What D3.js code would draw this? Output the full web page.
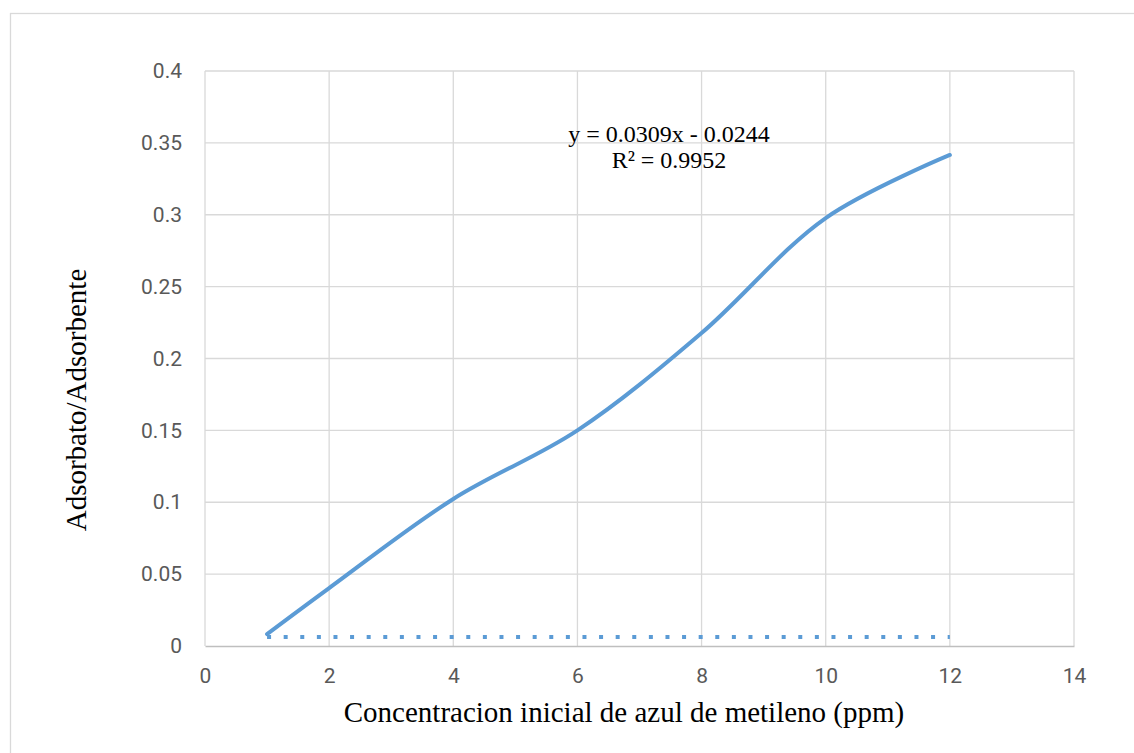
<!DOCTYPE html>
<html>
<head>
<meta charset="utf-8">
<script src="https://cdn.jsdelivr.net/npm/d3@7"></script>
<style>
  body { margin: 0; background: #fff; }
</style>
</head>
<body>
<div id="wrapper"></div>
<script>
// Data
const concentracion = [1, 2, 4, 6, 8, 10, 12];
const adsorbato = [0.0083, 0.0403, 0.1023, 0.150, 0.2177, 0.2977, 0.3416];
const trendX = [1, 12];
const trendY = [0.0063, 0.0063];
const xTicks = [0, 2, 4, 6, 8, 10, 12, 14];
const yTicks = [0, 0.05, 0.1, 0.15, 0.2, 0.25, 0.3, 0.35, 0.4];
const equation = ['y = 0.0309x - 0.0244', 'R² = 0.9952'];
const xTitle = 'Concentracion inicial de azul de metileno (ppm)';
const yTitle = 'Adsorbato/Adsorbente';

// Dimensions
const dimensions = {
  width: 1134, height: 753,
  margins: {top: 71, right: 60, bottom: 107, left: 205}
};
dimensions.boundedWidth = dimensions.width - dimensions.margins.left - dimensions.margins.right;
dimensions.boundedHeight = dimensions.height - dimensions.margins.top - dimensions.margins.bottom;

const svg = d3.select('#wrapper').append('svg')
  .attr('width', dimensions.width).attr('height', dimensions.height);

// outer chart border
svg.append('rect')
  .attr('x', 10.5).attr('y', 13.5)
  .attr('width', 1130).attr('height', 760)
  .attr('fill', 'none').attr('stroke', '#d9d9d9').attr('stroke-width', 1.3);

const bounds = svg.append('g')
  .attr('transform', `translate(${dimensions.margins.left},${dimensions.margins.top})`);

// Scales
const xScale = d3.scaleLinear().domain([0, 14]).range([0, dimensions.boundedWidth]);
const yScale = d3.scaleLinear().domain([0, 0.4]).range([dimensions.boundedHeight, 0]);

// Gridlines
bounds.append('g').selectAll('line')
  .data(yTicks.slice(1)).enter().append('line')
  .attr('x1', 0).attr('x2', dimensions.boundedWidth)
  .attr('y1', d => yScale(d)).attr('y2', d => yScale(d))
  .attr('stroke', '#d9d9d9').attr('stroke-width', 1.3);
bounds.append('g').selectAll('line')
  .data(xTicks).enter().append('line')
  .attr('x1', d => xScale(d)).attr('x2', d => xScale(d))
  .attr('y1', 0).attr('y2', dimensions.boundedHeight)
  .attr('stroke', '#d9d9d9').attr('stroke-width', 1.3);

// Axes
const xAxis = bounds.append('g')
  .attr('transform', `translate(0,${dimensions.boundedHeight})`)
  .call(d3.axisBottom(xScale).tickValues(xTicks).tickSize(0).tickPadding(22).tickFormat(d3.format('d')));
xAxis.select('.domain').attr('stroke', '#bfbfbf').attr('stroke-width', 1.5);
xAxis.selectAll('text')
  .attr('font-family', 'Roboto, sans-serif').attr('font-size', '21px').attr('fill', '#595959');

const yAxis = bounds.append('g')
  .call(d3.axisLeft(yScale).tickValues(yTicks).tickSize(0).tickPadding(23).tickFormat(d => d === 0 ? '0' : d3.format('~g')(d)));
yAxis.select('.domain').remove();
yAxis.selectAll('text')
  .attr('font-family', 'Roboto, sans-serif').attr('font-size', '21px').attr('fill', '#595959');

// Trendline (dotted)
const trendLine = d3.line().x(d => xScale(d[0])).y(d => yScale(d[1]));
bounds.append('path')
  .datum(trendX.map((x, i) => [x, trendY[i]]))
  .attr('d', trendLine)
  .attr('fill', 'none').attr('stroke', '#5b9bd5')
  .attr('stroke-width', 4).attr('stroke-dasharray', '4,12.6');

// Data line (smoothed)
const lineGen = d3.line()
  .x(d => xScale(d[0])).y(d => yScale(d[1]))
  .curve(d3.curveCatmullRom.alpha(0.5));
bounds.append('path')
  .datum(concentracion.map((x, i) => [x, adsorbato[i]]))
  .attr('d', lineGen)
  .attr('fill', 'none').attr('stroke', '#5b9bd5')
  .attr('stroke-width', 4).attr('stroke-linecap', 'round');

// Equation label
bounds.append('g').selectAll('text')
  .data(equation).enter().append('text')
  .attr('x', 464).attr('y', (d, i) => 71 + i * 26)
  .attr('text-anchor', 'middle')
  .attr('font-family', '"Liberation Serif", "Times New Roman", serif')
  .attr('font-size', '24px').attr('fill', '#000')
  .text(d => d);

// Axis titles
svg.append('text')
  .attr('x', 624).attr('y', 722)
  .attr('text-anchor', 'middle')
  .attr('font-family', '"Liberation Serif", "Times New Roman", serif')
  .attr('font-size', '29px').attr('fill', '#000')
  .text(xTitle);
svg.append('text')
  .attr('transform', 'translate(86,400) rotate(-90)')
  .attr('text-anchor', 'middle')
  .attr('font-family', '"Liberation Serif", "Times New Roman", serif')
  .attr('font-size', '29px').attr('fill', '#000')
  .text(yTitle);
</script>
</body>
</html>
